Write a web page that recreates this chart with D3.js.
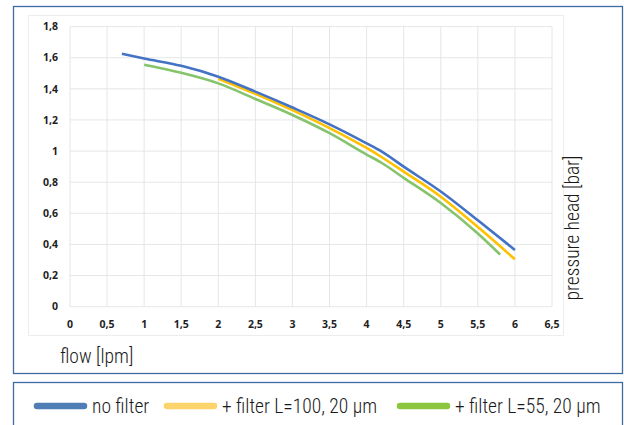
<!DOCTYPE html>
<html>
<head>
<meta charset="utf-8">
<script src="https://cdn.jsdelivr.net/npm/d3@7"></script>
<style>
  body { margin: 0; background: #fff; }
  svg { display: block; }
</style>
</head>
<body>
<div id="chart"></div>
<script>
(function() {
  const xTicks = [0, 0.5, 1, 1.5, 2, 2.5, 3, 3.5, 4, 4.5, 5, 5.5, 6, 6.5];
  const yTicks = [0, 0.2, 0.4, 0.6, 0.8, 1, 1.2, 1.4, 1.6, 1.8];

  const noFilter = [[0.7, 1.625], [1, 1.595], [1.5, 1.548], [2, 1.478], [2.5, 1.382], [3, 1.28],
    [3.5, 1.172], [4, 1.05], [4.2, 0.998], [4.5, 0.9], [5, 0.74], [5.5, 0.555], [6, 0.365]];
  const filter100 = [[2, 1.465], [2.5, 1.368], [3, 1.263], [3.5, 1.148], [4, 1.02], [4.2, 0.962],
    [4.5, 0.868], [5, 0.707], [5.5, 0.512], [6, 0.305]];
  const filter55 = [[1, 1.555], [1.5, 1.503], [2, 1.435], [2.5, 1.335], [3, 1.232], [3.5, 1.115],
    [4, 0.978], [4.2, 0.925], [4.5, 0.828], [5, 0.666], [5.5, 0.47], [5.8, 0.335]];

  const seriesNames = ["no filter", "+ filter L=100, 20 µm", "+ filter L=55, 20 µm"];
  const lineColors = ["#4472c4", "#ffc000", "#85c46c"];
  const legendColors = ["#4f7db5", "#fdd36b", "#8cc63f"];

  const width = 624, height = 425;
  const svg = d3.select("#chart").append("svg")
    .attr("width", width)
    .attr("height", height);

  // outer boxes
  svg.append("rect")
    .attr("x", 13.5).attr("y", 6.5)
    .attr("width", 609).attr("height", 367)
    .attr("fill", "none").attr("stroke", "#3f6aa2").attr("stroke-width", 1.3);
  svg.append("rect")
    .attr("x", 28.5).attr("y", 15.5)
    .attr("width", 535).attr("height", 320)
    .attr("fill", "none").attr("stroke", "#ededed");
  svg.append("rect")
    .attr("x", 13.5).attr("y", 382.5)
    .attr("width", 609).attr("height", 60)
    .attr("fill", "none").attr("stroke", "#3f6aa2").attr("stroke-width", 1.3);

  const x = d3.scaleLinear().domain([0, 6.5]).range([70, 552]);
  const y = d3.scaleLinear().domain([0, 1.8]).range([306.7, 26.6]);

  const fmt = d => String(d).replace(".", ",");
  const titleFont = "300 19.5px 'Liberation Sans Narrow', 'Roboto Condensed', sans-serif";

  // grid
  svg.append("g").selectAll("line")
    .data(xTicks).enter().append("line")
    .attr("x1", d => x(d)).attr("x2", d => x(d))
    .attr("y1", y(0)).attr("y2", y(1.8))
    .attr("stroke", "#e4e6e8");
  svg.append("g").selectAll("line")
    .data(yTicks).enter().append("line")
    .attr("x1", x(0)).attr("x2", x(6.5))
    .attr("y1", d => y(d)).attr("y2", d => y(d))
    .attr("stroke", "#e4e6e8");

  // tick labels
  svg.append("g").selectAll("text")
    .data(yTicks).enter().append("text")
    .attr("x", 58)
    .attr("y", d => y(d))
    .attr("dy", "0.35em")
    .attr("text-anchor", "end")
    .style("font", "bold 10.5px 'Open Sans', sans-serif")
    .style("fill", "#1e1e1e")
    .text(fmt);
  svg.append("g").selectAll("text")
    .data(xTicks).enter().append("text")
    .attr("x", d => x(d))
    .attr("y", 328)
    .attr("text-anchor", "middle")
    .style("font", "bold 10.5px 'Open Sans', sans-serif")
    .style("fill", "#1e1e1e")
    .text(fmt);

  // axis titles
  svg.append("text")
    .attr("x", 60).attr("y", 363)
    .style("font", titleFont)
    .style("fill", "#1a1a1a")
    .text("flow [lpm]");
  svg.append("text")
    .attr("transform", "translate(579,228) rotate(-90)")
    .attr("text-anchor", "middle")
    .style("font", titleFont)
    .style("fill", "#1a1a1a")
    .text("pressure head [bar]");

  // curves
  const line = d3.line()
    .x(d => x(d[0]))
    .y(d => y(d[1]))
    .curve(d3.curveMonotoneX);

  [filter55, filter100, noFilter].forEach(function(s, i) {
    svg.append("path")
      .datum(s)
      .attr("d", line)
      .attr("fill", "none")
      .attr("stroke", lineColors[2 - i])
      .attr("stroke-width", 2.6);
  });

  // legend
  const legendX = [35, 165, 398];
  const legend = svg.selectAll(".legend")
    .data(seriesNames)
    .enter().append("g")
    .attr("class", "legend")
    .attr("transform", (d, i) => "translate(" + legendX[i] + ",406)");
  legend.append("line")
    .attr("x1", 2).attr("x2", 49)
    .attr("stroke", (d, i) => legendColors[i])
    .attr("stroke-width", 6.5)
    .attr("stroke-linecap", "round");
  legend.append("text")
    .attr("x", 57)
    .attr("dy", "0.36em")
    .style("font", titleFont)
    .style("fill", "#1a1a1a")
    .text(String);
})();
</script>
</body>
</html>
